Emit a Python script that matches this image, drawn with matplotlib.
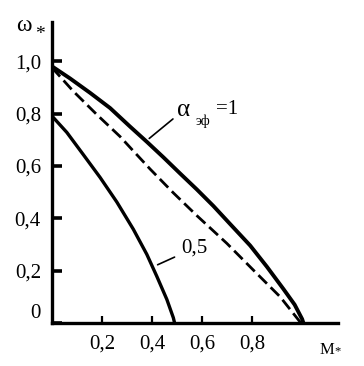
import matplotlib
matplotlib.use('Agg')
import matplotlib.pyplot as plt

plt.rcParams['font.family'] = ['Liberation Serif', 'DejaVu Serif']

# upper solid curve (alpha_eff = 1)
m_solid = [0.0, 0.072, 0.152, 0.232, 0.312, 0.379, 0.445, 0.512, 0.579,
           0.645, 0.712, 0.792, 0.859, 0.925, 0.97, 1.0, 1.005]
w_solid = [0.98, 0.934, 0.879, 0.821, 0.75, 0.692, 0.633, 0.571, 0.51,
           0.447, 0.378, 0.296, 0.215, 0.13, 0.07, 0.015, 0.0]
# dashed curve
m_dash = [0.0, 0.085, 0.179, 0.272, 0.325, 0.392, 0.485, 0.579, 0.699, 0.805, 0.912, 0.995]
w_dash = [0.975, 0.885, 0.796, 0.712, 0.657, 0.588, 0.497, 0.41, 0.304, 0.202, 0.100, 0.0]
# lower curve (0,5)
m_low = [0.0, 0.059, 0.125, 0.192, 0.259, 0.325, 0.379, 0.419, 0.459, 0.485, 0.49]
w_low = [0.79, 0.728, 0.643, 0.556, 0.462, 0.358, 0.262, 0.178, 0.09, 0.02, 0.0]

xticks = [0.2, 0.4, 0.6, 0.8]
xlabels = ['0,2', '0,4', '0,6', '0,8']
yticks = [0, 0.2, 0.4, 0.6, 0.8, 1.0]
ylabels = ['0', '0,2', '0,4', '0,6', '0,8', '1,0']

fig = plt.figure(figsize=(3.64, 3.66), dpi=100)
ax = fig.add_axes([0.143, 0.1175, 0.786, 0.822])

ax.plot(m_solid, w_solid, color='black', lw=2.8, solid_capstyle='round',
        solid_joinstyle='round')
ax.plot(m_dash, w_dash, color='black', lw=2.0, dashes=(4.3, 1.9))
ax.plot(m_low, w_low, color='black', lw=2.4, solid_capstyle='round',
        solid_joinstyle='round')

ax.set_xlim(0, 1.144)
ax.set_ylim(0, 1.149)
for s in ['top', 'right']:
    ax.spines[s].set_visible(False)
for s in ['left', 'bottom']:
    ax.spines[s].set_linewidth(2.4)

ax.set_xticks(xticks)
ax.set_xticklabels(xlabels)
ax.set_yticks(yticks)
ax.set_yticklabels(ylabels)
ax.tick_params(axis='x', direction='in', length=5, width=1.6, pad=8, labelsize=15)
ax.tick_params(axis='y', direction='in', length=7, width=2.6, pad=8, labelsize=15)
ax.get_yticklabels()[0].set_verticalalignment('bottom')

ax.text(-0.112, 1.137, 'ω', fontsize=17, ha='center', va='center', clip_on=False)
ax.text(-0.05, 1.10, '*', fontsize=14, ha='center', va='center', clip_on=False)
ax.text(1.10, -0.103, 'M', fontsize=12, ha='center', va='center', clip_on=False)
ax.text(1.14, -0.108, '*', fontsize=9, ha='center', va='center', clip_on=False)

ax.annotate('', xy=(0.38, 0.698), xytext=(0.492, 0.786),
            arrowprops=dict(arrowstyle='-', color='black', lw=1.2))
ax.text(0.524, 0.813, 'α', fontsize=18, ha='center', va='center')
ax.text(0.604, 0.771, 'эф', fontsize=10, ha='center', va='center')
ax.text(0.70, 0.815, '=1', fontsize=15, ha='center', va='center')

ax.annotate('', xy=(0.412, 0.218), xytext=(0.50, 0.256),
            arrowprops=dict(arrowstyle='-', color='black', lw=1.2))
ax.text(0.568, 0.286, '0,5', fontsize=15, ha='center', va='center')

fig.savefig('out.png', dpi=100)
